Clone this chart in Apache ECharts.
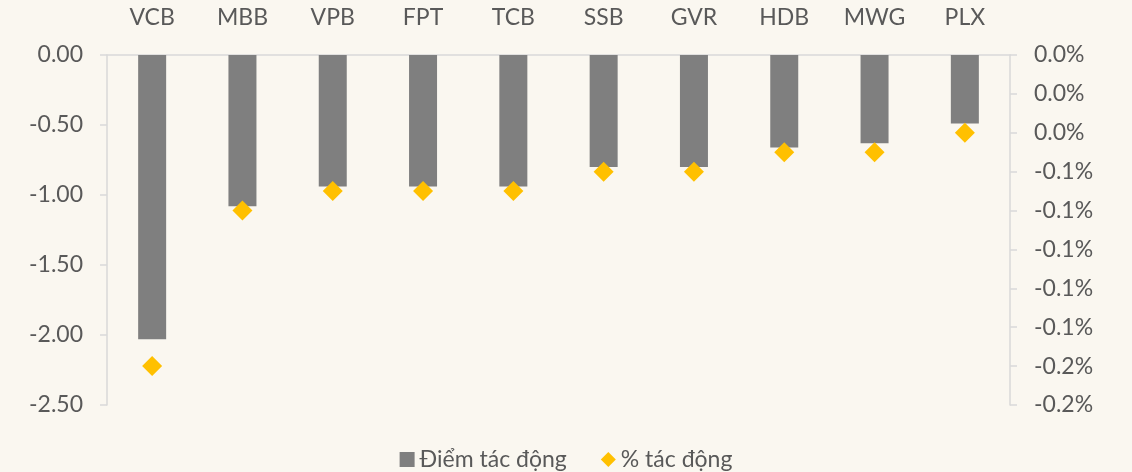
<!DOCTYPE html>
<html>
<head>
<meta charset="utf-8">
<script src="https://cdn.jsdelivr.net/npm/echarts@6/dist/echarts.min.js"></script>
<style>
html,body{margin:0;padding:0;background:#faf7f0;}
#chart{width:1132px;height:472px;}
</style>
</head>
<body>
<div id="chart"></div>
<script>
const categories = ['VCB','MBB','VPB','FPT','TCB','SSB','GVR','HDB','MWG','PLX'];
const impactPoints = [-2.03,-1.08,-0.94,-0.94,-0.94,-0.80,-0.80,-0.66,-0.63,-0.49];
const impactPercent = [-0.16,-0.08,-0.07,-0.07,-0.07,-0.06,-0.06,-0.05,-0.05,-0.04];
const seriesNames = ['Điểm tác động','% tác động'];

const txt = '#595959';
const axisCol = '#d9d9d9';
const font = 'Lato';
const fs = 23;
const chart = echarts.init(document.getElementById('chart'));
chart.setOption({
  backgroundColor:'#faf7f0',
  textStyle:{fontFamily:font},
  grid:{left:107,right:122,top:55,bottom:67},
  legend:{
    bottom:-4,left:'center',itemGap:34,itemWidth:15,itemHeight:15,
    textStyle:{color:txt,fontSize:fs,fontFamily:font},
    data:[{name:seriesNames[0],icon:'rect'},{name:seriesNames[1],icon:'diamond'}]
  },
  xAxis:{
    type:'category',position:'top',data:categories,
    axisLine:{lineStyle:{color:axisCol,width:1.5}},
    axisTick:{show:false},
    axisLabel:{color:txt,fontSize:fs,margin:26,fontFamily:font}
  },
  yAxis:[{
    type:'value',min:-2.5,max:0,interval:0.5,
    axisLine:{show:true,lineStyle:{color:axisCol,width:1.5}},
    axisTick:{show:true,length:7,lineStyle:{color:axisCol,width:1.5}},
    splitLine:{show:false},
    axisLabel:{color:txt,fontSize:fs,margin:24,fontFamily:font,formatter:v=>v.toFixed(2)}
  },{
    type:'value',min:-0.18,max:0,interval:0.02,position:'right',
    axisLine:{show:true,lineStyle:{color:axisCol,width:1.5}},
    axisTick:{show:true,length:7,lineStyle:{color:axisCol,width:1.5}},
    splitLine:{show:false},
    axisLabel:{color:txt,fontSize:fs,margin:24,fontFamily:font,formatter:v=>{
      const r=Math.round(v*10)/10; return (r===0?'0.0':r.toFixed(1))+'%';}}
  }],
  series:[{
    name:seriesNames[0],type:'bar',data:impactPoints,barWidth:28,
    itemStyle:{color:'#7f7f7f'},yAxisIndex:0
  },{
    name:seriesNames[1],type:'scatter',data:impactPercent,yAxisIndex:1,
    symbol:'diamond',symbolSize:20,itemStyle:{color:'#ffc000',opacity:1}
  }]
});
</script>
</body>
</html>
